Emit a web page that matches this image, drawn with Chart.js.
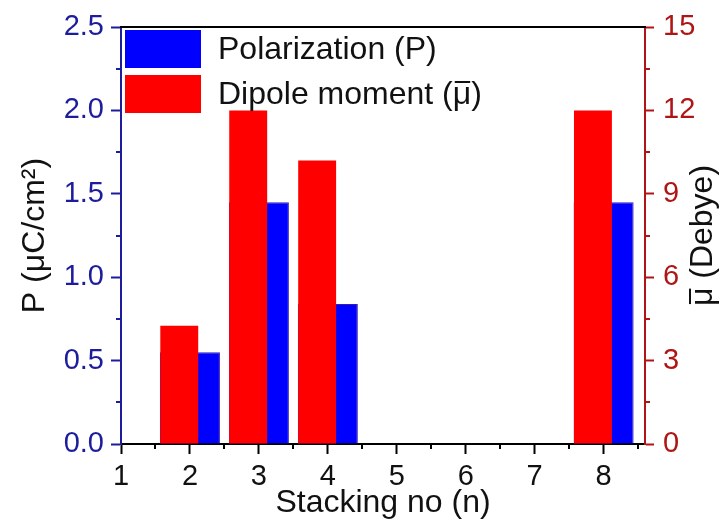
<!DOCTYPE html>
<html>
<head>
<meta charset="utf-8">
<script src="https://cdn.jsdelivr.net/npm/chart.js@4.4.1/dist/chart.umd.min.js"></script>
<style>
  body { margin: 0; background: #fff; }
  #wrap { width: 723px; height: 522px; }
</style>
</head>
<body>
<div id="wrap"><canvas id="stackChart" width="723" height="522"></canvas></div>
<script>
// stacking number n and the two measured quantities
const stackNo = [2, 3, 4, 8];
const polarization = [0.55, 1.45, 0.84, 1.45];   // µC/cm²
const dipoleMoment = [4.25, 12, 10.2, 12];       // Debye
const seriesNames = ['Polarization (P)', 'Dipole moment (\u03BC)'];

const FONT = "'Liberation Sans', Arial, sans-serif";
const LEFT_COL = '#1c1c9c';
const RIGHT_COL = '#b01515';
const X_MIN = 1, X_MAX = 8.6;
const RED_SHIFT = 0.155;   // red columns sit a bit left of the blue ones

// left-aligned text where every µ gets a bar on top (mean dipole)
function textWithBar(ctx, text, x, y) {
    const parts = text.split('\u03BC');
    let cx = x;
    parts.forEach((p, i) => {
        ctx.fillText(p, cx, y);
        cx += ctx.measureText(p).width;
        if (i < parts.length - 1) {
            const w = ctx.measureText('\u03BC').width;
            ctx.fillText('\u03BC', cx, y);
            ctx.fillRect(cx + 2, y - 14, w - 3, 2);
            cx += w;
        }
    });
}

// minor ticks, top frame line and the right axis title
const frameExtras = {
    id: 'frameExtras',
    afterDraw(chart) {
        const ctx = chart.ctx;
        const a = chart.chartArea;
        const sx = chart.scales.x, sy = chart.scales.y, sy1 = chart.scales.y1;
        ctx.save();
        ctx.lineWidth = 2;

        ctx.strokeStyle = '#000';
        ctx.beginPath();
        ctx.moveTo(a.left - 1, a.top);
        ctx.lineTo(a.right + 1, a.top);
        for (let v = 1.5; v < X_MAX; v += 1) {
            const px = Math.round(sx.getPixelForValue(v));
            ctx.moveTo(px, a.bottom);
            ctx.lineTo(px, a.bottom + 5);
        }
        ctx.stroke();

        ctx.strokeStyle = LEFT_COL;
        ctx.beginPath();
        for (let v = 0.25; v < 2.5; v += 0.5) {
            const py = Math.round(sy.getPixelForValue(v));
            ctx.moveTo(a.left, py);
            ctx.lineTo(a.left - 5, py);
        }
        ctx.stroke();

        ctx.strokeStyle = RIGHT_COL;
        ctx.beginPath();
        for (let v = 1.5; v < 15; v += 3) {
            const py = Math.round(sy1.getPixelForValue(v));
            ctx.moveTo(a.right, py);
            ctx.lineTo(a.right + 5, py);
        }
        ctx.stroke();

        // right title reads bottom to top like the left one
        const title = '\u03BC (Debye)';
        ctx.font = '32px ' + FONT;
        ctx.translate(703, (a.top + a.bottom) / 2);
        ctx.rotate(-Math.PI / 2);
        ctx.fillStyle = '#111';
        ctx.textAlign = 'left';
        ctx.textBaseline = 'middle';
        textWithBar(ctx, title, -ctx.measureText(title).width / 2, 0);
        ctx.restore();
    }
};

// legend boxes in the upper left corner of the plot
const boxLegend = {
    id: 'boxLegend',
    afterDraw(chart) {
        const ctx = chart.ctx;
        ctx.save();
        ctx.font = '32px ' + FONT;
        ctx.textBaseline = 'middle';
        chart.data.datasets.forEach((ds, i) => {
            const top = 30 + i * 45;
            ctx.fillStyle = ds.backgroundColor;
            ctx.fillRect(125, top, 76, 38);
            ctx.fillStyle = '#111';
            textWithBar(ctx, ds.label, 218, top + 20);
        });
        ctx.restore();
    }
};

const ctx = document.getElementById('stackChart').getContext('2d');
const chart = new Chart(ctx, {
    type: 'bar',
    data: {
        datasets: [{
            label: seriesNames[0],
            data: stackNo.map((n, i) => ({ x: n, y: polarization[i] })),
            backgroundColor: '#0000ff',
            borderColor: '#3a1aa8',
            borderWidth: 1,
            xAxisID: 'x',
            yAxisID: 'y',
            grouped: false,
            barPercentage: 0.87,
            categoryPercentage: 1,
            order: 1
        }, {
            label: seriesNames[1],
            data: stackNo.map((n, i) => ({ x: n, y: dipoleMoment[i] })),
            backgroundColor: '#ff0000',
            borderWidth: 0,
            xAxisID: 'x2',
            yAxisID: 'y1',
            grouped: false,
            barPercentage: 0.55,
            categoryPercentage: 1,
            order: 0
        }]
    },
    options: {
        responsive: false,
        animation: false,
        layout: { padding: { top: 27, left: 0, right: 0, bottom: 0 } },
        plugins: {
            legend: { display: false },
            tooltip: { enabled: false }
        },
        scales: {
            x: {
                type: 'linear',
                position: 'bottom',
                min: X_MIN,
                max: X_MAX,
                offset: false,
                grid: { offset: false, drawOnChartArea: false, tickLength: 10, tickWidth: 2, tickColor: '#000' },
                border: { color: '#000', width: 2 },
                ticks: {
                    stepSize: 1,
                    includeBounds: false,
                    color: '#111',
                    padding: 6,
                    font: { family: FONT, size: 29 },
                    callback: v => String(v)
                },
                title: {
                    display: true,
                    text: 'Stacking no (n)',
                    color: '#111',
                    font: { family: FONT, size: 32 },
                    padding: { top: 0, bottom: 0 }
                },
                afterFit: s => { s.height = 78; }
            },
            x2: {
                type: 'linear',
                axis: 'x',
                position: 'bottom',
                display: false,
                min: X_MIN + RED_SHIFT,
                max: X_MAX + RED_SHIFT,
                offset: false,
                grid: { offset: false },
                ticks: { stepSize: 1, includeBounds: false }
            },
            y: {
                type: 'linear',
                position: 'left',
                min: 0,
                max: 2.5,
                grid: { drawOnChartArea: false, tickLength: 10, tickWidth: 2, tickColor: LEFT_COL },
                border: { color: LEFT_COL, width: 2 },
                ticks: {
                    stepSize: 0.5,
                    color: LEFT_COL,
                    padding: 7,
                    font: { family: FONT, size: 29 },
                    callback: v => v.toFixed(1)
                },
                title: {
                    display: true,
                    text: 'P (\u03BCC/cm\u00B2)',
                    color: '#111',
                    font: { family: FONT, size: 32 },
                    padding: { top: 16, bottom: 0 }
                },
                afterFit: s => { s.width = 121; }
            },
            y1: {
                type: 'linear',
                position: 'right',
                min: 0,
                max: 15,
                grid: { drawOnChartArea: false, tickLength: 9, tickWidth: 2, tickColor: RIGHT_COL },
                border: { color: RIGHT_COL, width: 2 },
                ticks: {
                    stepSize: 3,
                    color: RIGHT_COL,
                    padding: 9,
                    font: { family: FONT, size: 29 }
                },
                afterFit: s => { s.width = 78; }
            }
        }
    },
    plugins: [frameExtras, boxLegend]
});
</script>
</body>
</html>
